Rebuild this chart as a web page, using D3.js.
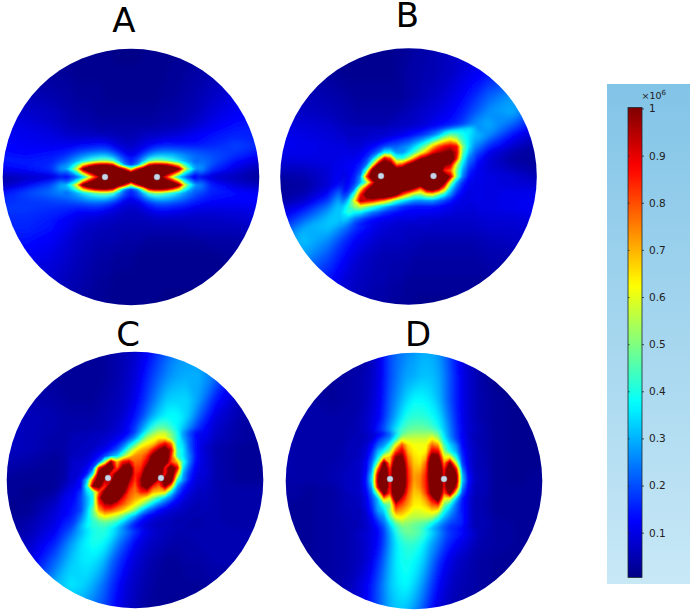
<!DOCTYPE html>
<html lang="en">
<head>
<meta charset="UTF-8">
<title>Field panels</title>
<script src="https://d3js.org/d3.v7.min.js"></script>
<style>
    html, body { margin: 0; background: #fff; }
    svg { display: block; }
    text { font-family: "DejaVu Sans", sans-serif; }
</style>
</head>
<body>
<script>
// sample positions of the whole-disk grids, offset from the disk centre
const gridOffsets = [-128,-104,-80,-64,-52,-42,-32,-24,-16,-8,0,8,16,24,32,42,52,64,80,104,128]
// sample positions of the finer grids around the electrodes
const coreColumns = [-72,-66,-60,-54,-48,-42,-36,-30,-24,-18,-12,-6,0,6,12,18,24,30,36,42,48,54,60,66,72]
const coreRowsThin = [-24,-20,-16,-12,-8,-4,0,4,8,12,16,20,24]
const coreRowsWide = [-54,-48,-42,-36,-30,-24,-18,-12,-6,0,6,12,18,24,30,36,42,48,54]

const panelLabels = ['A', 'B', 'C', 'D']

// field magnitude, in units of 1e4 (100 = top of the colour bar)
const fieldA = [
[2,2,2,2,2,2,2,2,1,1,1,1,2,2,2,2,2,3,4,5,5],
[3,3,3,3,2,2,2,2,2,2,2,2,2,2,2,3,3,4,5,7,7],
[6,6,5,4,3,3,3,2,2,2,2,2,2,2,3,3,4,5,7,10,11],
[9,8,7,5,4,4,3,3,3,3,3,3,3,3,4,4,5,6,9,12,13],
[11,10,8,6,5,5,4,4,4,4,4,4,4,4,5,5,6,8,11,14,15],
[12,11,10,8,7,7,6,6,6,5,5,6,7,7,8,9,10,12,14,16,16],
[13,12,11,11,12,13,14,13,10,8,7,9,11,13,14,14,14,14,16,19,17],
[14,13,14,16,20,22,24,24,18,12,10,12,18,24,26,26,24,22,20,18,14],
[15,15,16,22,32,42,48,48,38,22,14,22,38,48,48,44,34,26,22,14,9],
[12,14,18,38,78,110,122,125,115,85,65,85,115,125,122,110,78,38,18,10,5],
[5,7,8,12,25,55,98,115,125,125,125,125,125,115,98,55,25,12,8,6,3],
[6,12,20,40,80,110,122,125,115,85,65,85,115,125,122,110,78,36,16,9,6],
[14,20,24,28,34,44,48,48,38,22,14,22,38,48,48,42,32,22,16,14,12],
[17,18,19,20,22,24,24,22,17,12,10,12,17,22,24,22,20,16,13,13,13],
[18,18,17,16,14,14,14,12,10,8,7,8,11,13,14,13,12,10,10,10,11],
[17,17,15,12,10,9,8,7,7,6,6,6,6,7,7,7,7,7,7,8,9],
[16,16,14,11,8,7,6,6,5,5,5,5,5,5,5,5,5,6,6,6,7],
[14,14,12,9,7,6,5,5,5,4,4,4,3,3,3,3,3,3,4,4,5],
[11,12,10,8,6,5,4,4,3,3,3,2,2,2,2,2,2,2,2,3,4],
[8,8,8,6,5,4,3,3,2,2,2,2,2,2,2,2,2,2,2,2,2],
[6,6,5,4,4,3,3,2,2,2,2,2,2,2,1,1,1,1,1,2,2]
]

const fieldB = [
[2,2,2,2,2,2,2,2,2,3,3,4,4,5,6,7,8,9,10,12,14],
[3,3,3,2,2,2,2,2,2,3,4,4,5,5,6,7,9,11,14,18,22],
[6,6,5,4,3,3,3,3,3,3,4,5,6,7,8,10,12,16,22,28,26],
[8,7,6,5,4,4,4,4,4,5,6,7,8,9,10,12,15,20,27,30,18],
[10,9,8,6,5,5,5,5,6,7,7,8,9,11,13,15,18,26,30,22,12],
[11,10,9,8,7,7,7,7,8,8,9,10,12,14,17,21,28,34,27,14,7],
[12,11,10,9,9,9,9,10,11,12,13,15,18,24,35,48,44,30,18,9,4],
[11,11,10,10,11,13,15,18,20,20,24,38,60,80,100,112,75,24,11,5,3],
[9,10,10,11,14,20,40,70,85,50,55,90,118,125,125,125,90,17,9,4,3],
[7,7,9,13,22,45,105,120,120,105,115,125,125,125,125,125,80,13,9,6,4],
[4,5,9,14,30,75,115,125,125,125,125,125,125,125,118,80,35,12,10,9,6],
[3,4,9,16,50,70,80,120,125,125,125,125,120,115,112,95,40,11,10,9,8],
[3,5,12,28,62,110,115,125,125,112,75,55,60,85,90,55,22,11,10,11,11],
[4,8,18,36,65,95,90,65,55,40,25,22,20,24,26,20,14,11,10,11,12],
[8,14,26,38,40,36,28,22,18,15,14,13,12,12,12,12,11,10,10,11,12],
[12,22,32,32,26,20,15,12,11,10,9,8,9,9,9,9,8,8,9,9,10],
[17,30,32,24,16,13,10,9,8,8,7,7,7,7,7,7,7,7,8,8,9],
[26,32,26,17,12,10,8,7,7,7,6,6,5,5,5,5,5,5,6,7,8],
[30,28,20,13,9,7,6,5,5,5,5,4,4,4,4,4,4,4,5,5,6],
[26,20,14,9,7,6,5,5,4,4,3,3,3,3,3,3,3,3,3,4,4],
[20,14,9,8,6,5,4,4,3,3,3,2,2,2,2,2,2,2,2,3,3]
]

const fieldC = [
[3,3,3,3,3,3,3,4,5,6,8,11,14,18,22,26,28,28,24,12,6],
[4,4,3,3,3,3,3,4,5,7,9,13,18,22,26,29,30,30,24,10,5],
[6,5,4,3,3,3,4,5,6,8,11,16,22,28,33,34,34,28,15,6,4],
[7,6,5,4,4,4,5,6,7,10,14,20,28,34,38,38,34,22,10,5,3],
[7,6,5,4,4,5,5,7,9,12,18,28,40,48,46,38,28,16,8,4,3],
[7,6,4,4,5,5,6,7,9,13,22,38,55,62,55,40,26,14,7,4,3],
[7,6,4,5,6,7,8,12,16,30,58,72,90,100,85,35,20,10,5,3,3],
[6,5,3,5,7,8,12,20,40,62,72,80,108,115,112,45,28,12,5,3,3],
[5,4,3,5,8,12,35,95,70,105,85,85,115,125,112,70,25,11,5,3,3],
[4,3,3,5,12,30,110,110,115,120,88,85,120,125,105,95,30,12,5,3,3],
[3,3,3,6,18,75,115,105,125,112,85,100,125,110,115,50,18,10,5,3,3],
[3,2,3,10,25,85,100,115,125,100,80,100,110,75,80,28,14,9,5,4,4],
[3,2,5,14,28,45,90,115,110,85,75,72,65,45,30,18,11,7,5,4,4],
[2,3,7,15,22,35,70,85,80,72,65,55,40,28,18,12,9,7,5,4,4],
[2,3,9,14,24,32,60,62,60,50,42,30,22,14,11,9,8,6,5,4,4],
[3,5,10,18,28,36,48,42,38,32,24,16,11,9,8,7,6,5,5,4,4],
[3,6,12,22,32,40,42,38,30,24,17,12,9,7,6,5,5,5,5,5,5],
[4,8,16,28,36,40,38,32,24,18,12,9,7,6,5,4,4,5,5,5,5],
[5,10,22,32,36,36,32,24,18,13,9,7,5,4,3,3,4,4,5,5,5],
[8,16,30,36,34,30,24,18,13,9,7,5,4,3,3,3,3,3,4,4,4],
[12,22,30,30,28,24,20,15,11,8,6,4,3,3,2,2,2,3,3,3,3]
]

const fieldD = [
[3,3,3,3,4,6,12,20,24,26,28,30,30,28,22,14,8,5,2,2,2],
[3,3,3,4,5,7,12,20,25,29,30,32,32,30,24,15,9,5,2,2,2],
[4,4,3,4,5,8,13,22,28,34,38,38,36,32,24,15,9,5,3,2,2],
[4,4,4,4,6,9,14,24,32,40,42,42,40,36,27,16,9,5,3,2,2],
[4,4,4,5,6,10,18,28,38,46,48,48,46,40,30,17,9,6,3,2,2],
[5,4,4,5,7,11,22,40,58,58,56,56,62,58,35,22,10,6,3,2,2],
[5,4,4,6,8,14,28,58,80,66,62,62,75,85,50,28,11,6,3,2,2],
[5,4,4,6,9,16,38,80,105,72,65,66,90,115,62,34,13,7,3,2,2],
[5,4,5,6,9,24,90,90,120,85,68,72,108,125,82,55,14,7,3,2,2],
[5,4,5,7,12,45,115,95,125,95,72,82,120,125,105,100,24,8,3,2,3],
[4,4,5,7,13,45,120,100,125,100,75,88,115,125,105,100,24,8,3,2,3],
[4,3,4,7,12,35,110,95,125,92,72,80,108,125,95,85,18,8,3,3,3],
[4,3,4,6,10,20,65,85,118,82,68,70,95,118,70,40,12,7,3,3,3],
[3,3,4,6,9,14,32,65,92,72,64,64,75,85,45,20,10,6,3,3,3],
[3,3,4,6,8,12,24,52,72,66,60,60,62,60,35,20,12,7,3,3,3],
[3,3,4,5,8,10,18,38,55,58,54,50,44,36,25,18,12,7,4,3,3],
[3,3,4,5,8,10,15,28,42,48,48,44,36,28,20,16,12,6,4,3,3],
[3,3,4,5,7,10,16,28,38,42,42,38,30,24,17,12,9,5,4,3,3],
[3,3,4,5,7,11,20,30,38,40,38,34,26,18,12,8,6,4,3,3,3],
[3,3,4,6,10,15,24,32,36,38,34,28,20,13,9,6,5,4,3,3,3],
[3,3,5,7,10,16,24,30,33,32,28,22,15,10,7,5,4,3,3,3,3]
]

const coreA = [
[15,17,20,21,22,24,25,26,26,24,19,14,11,14,19,24,26,27,28,28,27,25,23,20,17],
[16,19,22,25,27,29,32,34,34,30,22,15,12,15,22,30,34,34,32,30,28,26,24,21,18],
[18,21,26,30,36,42,48,52,52,46,30,19,14,19,30,46,52,52,48,42,36,30,26,21,17],
[20,25,32,45,66,80,92,97,97,88,55,28,20,28,55,88,97,97,92,80,66,45,32,24,17],
[18,26,40,60,100,118,122,125,125,125,105,85,55,85,105,125,125,125,122,118,100,60,40,24,14],
[12,18,26,38,65,88,105,118,125,125,125,118,103,118,125,125,125,118,105,88,65,38,26,16,10],
[8,12,18,24,34,55,80,102,118,125,125,125,112,125,125,125,118,102,80,55,34,24,16,10,7],
[12,18,26,38,65,88,105,118,125,125,125,118,103,118,125,125,125,118,105,88,65,38,26,16,11],
[20,28,42,65,102,118,122,125,125,125,105,85,55,85,105,125,125,125,122,118,100,58,38,24,14],
[22,27,34,48,68,82,92,97,97,88,55,28,20,28,55,88,97,97,92,80,64,42,30,22,16],
[20,22,26,30,36,42,48,52,52,46,30,19,14,19,30,46,52,52,46,40,34,28,24,20,15],
[19,22,23,25,27,29,32,34,34,30,22,15,12,15,22,30,34,32,30,28,25,23,21,18,15],
[17,19,20,21,22,24,25,26,26,24,19,14,11,14,19,24,26,26,25,23,21,20,18,15,13]
]

const coreB = [
[6,6,6,6,6,6,6,6,6,7,7,7,8,9,10,11,13,15,18,22,26,30,32,34,32],
[7,7,7,7,7,7,7,7,7,8,8,9,10,11,12,14,17,20,25,30,34,36,37,34,30],
[8,8,7,7,7,7,8,8,8,9,10,11,13,15,17,20,24,30,40,47,45,40,36,32,28],
[9,9,8,8,8,9,9,10,12,14,16,18,20,24,28,34,42,52,62,68,60,44,36,30,24],
[10,10,9,9,9,11,13,16,20,22,22,25,28,34,42,52,68,80,88,92,88,52,36,27,20],
[10,10,10,10,11,14,18,25,38,38,28,28,35,45,58,72,88,96,100,104,92,48,32,22,15],
[10,11,11,11,13,18,30,55,90,80,45,42,55,75,95,105,118,125,125,120,85,42,26,19,12],
[10,11,12,13,16,24,55,100,118,108,75,80,100,115,122,125,125,125,102,95,58,36,22,15,10],
[8,10,12,14,20,45,105,118,125,122,115,120,125,125,125,125,125,118,85,78,50,30,18,12,8],
[7,9,12,16,26,80,115,125,125,125,125,125,125,125,125,125,125,122,115,95,50,26,15,11,8],
[7,10,13,18,30,50,85,120,125,125,125,125,125,125,125,122,118,112,102,55,30,18,12,10,8],
[8,11,15,25,60,90,110,125,125,125,125,115,108,95,78,105,112,98,70,36,22,14,11,10,9],
[10,14,22,45,85,108,122,125,125,118,102,80,65,52,50,60,62,50,38,26,16,12,10,10,9],
[14,20,34,62,96,92,88,80,72,60,45,38,32,28,27,28,28,24,20,16,12,10,10,10,9],
[20,30,42,52,58,52,45,38,32,26,22,18,16,15,15,15,15,14,12,11,10,10,9,9,9],
[26,36,42,38,36,30,25,22,18,16,14,13,12,12,12,12,11,11,10,10,9,9,9,8,8],
[30,34,32,26,22,18,15,13,12,11,10,10,10,10,9,9,9,9,8,8,8,8,8,8,8],
[32,30,25,18,14,12,11,10,9,9,8,8,8,8,8,8,7,7,7,7,7,7,7,7,7],
[30,24,18,13,11,10,9,8,8,7,7,7,7,7,7,7,6,6,6,6,6,6,6,6,6]
]

const coreC = [
[5,5,5,5,6,6,6,6,7,8,9,11,16,24,34,42,48,50,46,38,28,20,14,10,8],
[5,5,5,6,6,6,7,7,8,9,11,14,20,30,42,50,56,58,50,40,28,20,14,10,8],
[5,5,6,6,6,7,7,8,9,11,14,20,28,40,54,60,64,62,52,42,30,22,15,10,8],
[6,6,6,6,7,7,8,9,12,15,22,32,44,58,64,68,80,90,78,40,34,22,15,10,8],
[6,6,6,7,7,8,10,12,16,22,32,48,62,70,74,86,100,110,92,45,36,24,15,10,8],
[6,6,7,7,8,10,14,20,28,34,50,64,74,76,84,104,118,120,85,45,36,26,16,10,8],
[7,7,8,8,9,14,22,55,100,70,88,92,78,80,92,112,122,112,82,70,42,26,15,10,8],
[7,7,8,9,12,20,85,108,108,78,105,115,82,84,105,118,125,85,110,92,36,22,13,9,7],
[7,8,8,10,16,38,108,118,85,105,125,112,84,90,118,125,115,85,118,70,30,18,12,8,7],
[7,8,9,14,32,80,115,95,92,125,125,100,82,98,122,118,90,108,110,45,28,16,10,8,6],
[8,9,11,14,40,100,105,82,112,125,118,90,78,96,112,85,78,100,72,30,18,12,9,7,6],
[9,10,13,18,34,45,78,105,125,125,105,82,76,85,85,70,68,65,38,22,14,10,8,6,6],
[10,11,14,20,30,40,88,118,125,110,88,78,72,68,62,52,42,32,24,15,11,8,7,6,5],
[10,12,15,20,30,42,82,96,98,88,80,72,64,56,45,34,26,20,14,11,8,7,6,5,5],
[11,13,16,20,32,48,72,82,80,74,68,60,50,36,26,20,14,11,9,8,7,6,5,5,5],
[12,14,18,24,34,46,58,64,60,56,48,38,30,20,14,11,9,8,7,6,6,5,5,5,4],
[13,16,20,28,36,42,46,48,46,42,34,26,18,13,10,8,7,6,6,5,5,5,4,4,4],
[15,18,24,32,38,42,42,42,38,32,25,18,13,10,8,7,6,6,5,5,5,4,4,4,4],
[16,20,28,35,38,40,38,36,32,25,18,14,10,8,7,6,5,5,5,4,4,4,4,4,4]
]

const coreD = [
[5,5,5,6,6,7,9,12,18,28,38,44,46,46,46,44,40,30,22,15,11,8,6,5,4],
[5,5,5,6,6,8,10,14,20,32,44,50,52,52,52,52,46,34,25,18,12,8,6,5,4],
[5,5,6,6,7,9,16,22,28,42,58,58,58,58,58,64,56,38,28,20,13,9,6,5,4],
[5,6,6,6,8,13,22,28,40,62,80,66,62,62,62,78,72,45,34,26,14,9,7,5,4],
[5,6,6,7,9,16,30,38,52,80,92,70,64,62,64,90,88,52,38,30,16,10,7,5,4],
[5,6,6,7,10,20,36,62,68,100,102,76,66,64,70,108,105,62,62,40,18,10,7,5,4],
[6,6,7,8,12,24,50,105,70,118,112,80,68,66,78,118,118,74,100,58,20,11,7,5,4],
[6,6,7,8,12,28,78,115,82,125,116,84,70,70,82,118,125,84,118,88,26,12,7,5,4],
[6,7,7,8,14,34,95,122,85,125,118,85,72,74,85,115,125,88,122,102,32,14,8,5,4],
[6,7,7,8,15,36,98,122,85,125,118,86,72,75,86,112,125,88,122,104,34,15,8,5,4],
[6,7,7,8,14,30,92,120,85,125,115,84,70,74,85,108,125,88,118,92,28,13,7,5,4],
[6,6,7,8,12,24,55,105,82,125,106,80,68,70,82,106,122,80,105,60,22,11,7,5,4],
[6,6,6,7,10,20,32,70,60,112,90,76,66,66,74,90,108,62,58,32,16,10,6,5,4],
[5,6,6,7,10,18,30,42,50,88,80,72,64,64,68,78,82,50,38,24,15,10,6,5,4],
[5,5,6,6,9,16,28,34,52,76,72,66,60,60,62,66,62,40,30,22,15,10,6,5,4],
[5,5,6,6,8,13,22,28,46,62,64,58,56,56,56,54,44,32,25,20,16,10,6,5,4],
[5,5,5,6,8,11,17,24,36,48,54,52,50,48,46,40,32,25,20,18,16,10,6,5,4],
[5,5,5,6,7,10,14,20,30,40,46,48,46,44,38,30,25,20,16,15,13,9,6,5,4],
[5,5,5,5,7,9,13,18,27,36,42,44,44,40,32,25,20,16,13,12,10,8,5,4,3]
]

const colorTicks = [0.1, 0.2, 0.3, 0.4, 0.5, 0.6, 0.7, 0.8, 0.9, 1]

const width = 693
const height = 612

// layout of the four disks
const panels = [
    {label: panelLabels[0], field: fieldA, core: coreA, rows: coreRowsThin, cx: 131, cy: 177, titleX: 124, titleY: 32, el: [-26, 26], elY: 0},
    {label: panelLabels[1], field: fieldB, core: coreB, rows: coreRowsWide, cx: 408.5, cy: 176.5, titleX: 407.5, titleY: 27, el: [-27.5, 25], elY: -0.5},
    {label: panelLabels[2], field: fieldC, core: coreC, rows: coreRowsWide, cx: 135, cy: 480, titleX: 128, titleY: 346, el: [-27, 26], elY: -2},
    {label: panelLabels[3], field: fieldD, core: coreD, rows: coreRowsWide, cx: 414, cy: 481, titleX: 418, titleY: 346, el: [-24, 30], elY: -2}
]

const jet = d3.scaleLinear()
    .domain([0, 0.125, 0.375, 0.625, 0.875, 1])
    .range(['#000080', '#0000ff', '#00ffff', '#ffff00', '#ff0000', '#800000'])
    .clamp(true)

const svg = d3.select('body').append('svg')
    .attr('width', width)
    .attr('height', height)

const defs = svg.append('defs')

function blurFilter(id, amount) {
    defs.append('filter').attr('id', id)
        .attr('x', '-30%').attr('y', '-30%').attr('width', '160%').attr('height', '160%')
        .append('feGaussianBlur').attr('stdDeviation', amount)
}
blurFilter('softFar', 2.5)
blurFilter('softCore', 0.6)
blurFilter('feather', 2.5)

const levels = d3.range(0, 101, 0.8)

// contour output is in grid indices, these scales take it to pixels around the disk centre
function indexScale(offsets) {
    return d3.scaleLinear()
        .domain(offsets.map((d, i) => i + 0.5))
        .range(offsets)
}

function drawField(parent, values, xOffsets, yOffsets, filterId) {
    const sx = indexScale(xOffsets)
    const sy = indexScale(yOffsets)
    const path = d3.geoPath(d3.geoTransform({
        point(x, y) { this.stream.point(sx(x), sy(y)) }
    }))
    const contours = d3.contours()
        .size([xOffsets.length, yOffsets.length])
        .thresholds(levels)
    return parent.append('g').attr('filter', `url(#${filterId})`)
        .selectAll('path')
        .data(contours(values.flat()))
        .enter()
        .append('path')
        .attr('d', path)
        .attr('fill', d => jet(d.value / 100))
}

panels.forEach((p, k) => {
    defs.append('clipPath').attr('id', 'disk' + k)
        .append('circle').attr('r', 128.3)

    // the fine grid fades into the whole-disk grid at its rim
    const x0 = d3.min(coreColumns), x1 = d3.max(coreColumns)
    const y0 = d3.min(p.rows), y1 = d3.max(p.rows)
    defs.append('mask').attr('id', 'coreMask' + k)
        .attr('maskUnits', 'userSpaceOnUse')
        .attr('x', -128).attr('y', -128).attr('width', 256).attr('height', 256)
        .append('rect')
        .attr('x', x0 + 5).attr('y', y0 + 5)
        .attr('width', x1 - x0 - 10).attr('height', y1 - y0 - 10)
        .attr('fill', '#fff')
        .attr('filter', 'url(#feather)')

    const g = svg.append('g')
        .attr('transform', `translate(${p.cx},${p.cy})`)

    const clipped = g.append('g').attr('clip-path', `url(#disk${k})`)
    drawField(clipped, p.field, gridOffsets, gridOffsets, 'softFar')
    const coreLayer = clipped.append('g').attr('mask', `url(#coreMask${k})`)
    drawField(coreLayer, p.core, coreColumns, p.rows, 'softCore')

    g.selectAll('circle.electrode')
        .data(p.el)
        .enter()
        .append('circle')
        .attr('class', 'electrode')
        .attr('cx', d => d)
        .attr('cy', p.elY)
        .attr('r', 3)
        .attr('fill', '#c9d6e6')
        .attr('stroke', '#7f93ad')
        .attr('stroke-width', 0.5)

    svg.append('text')
        .attr('x', p.titleX)
        .attr('y', p.titleY)
        .attr('text-anchor', 'middle')
        .attr('font-size', 34)
        .attr('fill', '#000')
        .text(p.label)
})

// colour bar
const bg = defs.append('linearGradient').attr('id', 'barPanel')
    .attr('x1', 0).attr('y1', 0).attr('x2', 0).attr('y2', 1)
bg.append('stop').attr('offset', 0).attr('stop-color', '#82c4e7')
bg.append('stop').attr('offset', 1).attr('stop-color', '#c8e8f6')

svg.append('rect')
    .attr('x', 607).attr('y', 84)
    .attr('width', 83).attr('height', 500)
    .attr('fill', 'url(#barPanel)')

const barX = 628
const barW = 14
const barScale = d3.scaleLinear().domain([0, 1]).range([579.8, 108.5])
const barMin = 0.005
const barMax = 1.002

const barGradient = defs.append('linearGradient').attr('id', 'barFill')
    .attr('x1', 0).attr('y1', 0).attr('x2', 0).attr('y2', 1)
barGradient.selectAll('stop')
    .data(d3.range(barMax, barMin, -0.02).concat([barMin]))
    .enter()
    .append('stop')
    .attr('offset', d => (barMax - d) / (barMax - barMin))
    .attr('stop-color', d => jet(d))

svg.append('rect')
    .attr('x', barX).attr('y', barScale(barMax))
    .attr('width', barW).attr('height', barScale(barMin) - barScale(barMax))
    .attr('fill', 'url(#barFill)')
    .attr('stroke', '#1c2a30')
    .attr('stroke-width', 0.8)

const axis = d3.axisRight(barScale)
    .tickValues(colorTicks)
    .tickSize(2)
    .tickPadding(5)
    .tickFormat(d3.format('~g'))

const axisG = svg.append('g')
    .attr('transform', `translate(${barX + barW},0)`)
    .call(axis)
axisG.select('.domain').remove()
axisG.selectAll('line').attr('stroke', '#1c2a30').attr('stroke-width', 0.8)
axisG.selectAll('text')
    .attr('font-size', 10.5)
    .attr('fill', '#222')

const innerTicks = svg.append('g')
    .attr('transform', `translate(${barX},0)`)
    .call(d3.axisRight(barScale).tickValues(colorTicks).tickSize(1.5).tickFormat(''))
innerTicks.select('.domain').remove()
innerTicks.selectAll('line').attr('stroke', '#1c2a30').attr('stroke-width', 0.8)

const expo = svg.append('text')
    .attr('x', 641.5)
    .attr('y', 99)
    .attr('font-size', 9.5)
    .attr('fill', '#222')
expo.append('tspan').text('×10')
expo.append('tspan').attr('dy', -4).attr('font-size', 7).text('6')
</script>
</body>
</html>
